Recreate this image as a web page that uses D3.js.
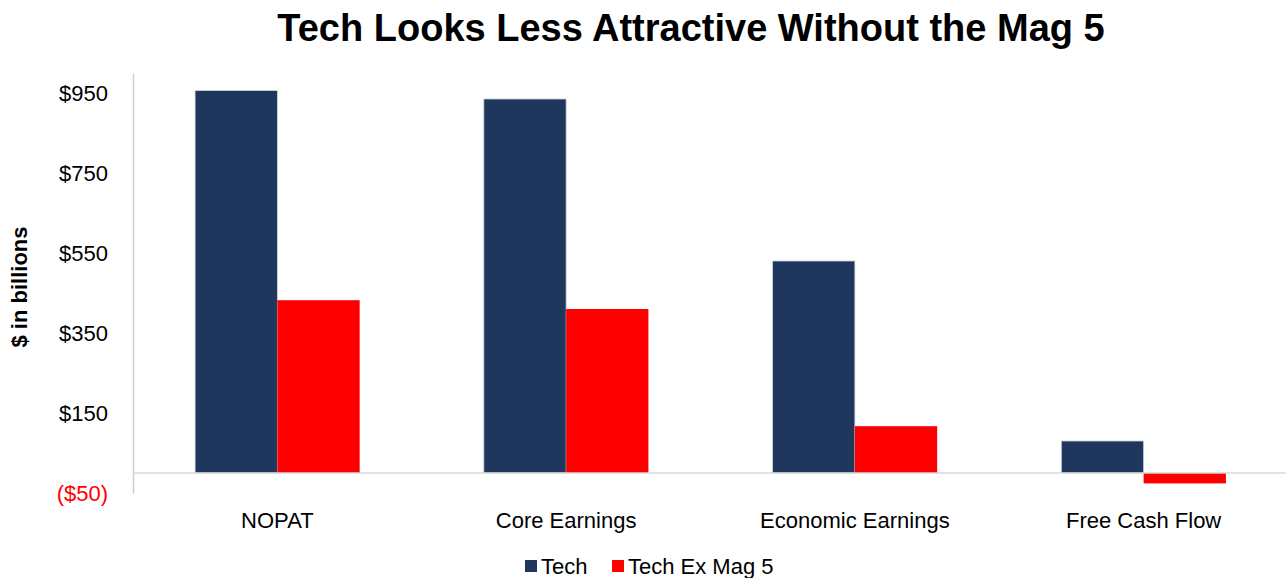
<!DOCTYPE html>
<html lang="en">
<head>
  <meta charset="UTF-8">
  <title>Tech Looks Less Attractive Without the Mag 5</title>
  <script src="https://cdn.jsdelivr.net/npm/d3@7"></script>
  <style>
    body { margin: 0; background: #fff; }
    svg { display: block; font-family: "Liberation Sans", Arial, sans-serif; }
  </style>
</head>
<body>
  <div id="chart"></div>
  <script>
    const categories = ['NOPAT', 'Core Earnings', 'Economic Earnings', 'Free Cash Flow']
    const seriesNames = ['Tech', 'Tech Ex Mag 5']
    const techValues = [956, 935, 530, 80]
    const exMagValues = [432, 410, 117, -26]
    const yTicks = [-50, 150, 350, 550, 750, 950]

    const width = 1286
    const height = 578
    const plotLeft = 133
    const plotRight = 1288
    const plotTop = 73
    const plotBottom = 493
    const colors = ['#1f375c', '#ff0000']

    const svg = d3.select('#chart')
      .append('svg')
      .attr('width', width)
      .attr('height', height)

    const x0 = d3.scaleBand()
      .domain(categories)
      .range([plotLeft, plotRight])
      .paddingInner(0.43)
      .paddingOuter(0.215)

    const x1 = d3.scaleBand()
      .domain(seriesNames)
      .range([0, x0.bandwidth()])

    const y = d3.scaleLinear()
      .domain([-50, 1000])
      .range([plotBottom, plotTop])

    const rows = categories.map((c, i) => ({ cat: c, values: [techValues[i], exMagValues[i]] }))

    // title
    svg.append('text')
      .attr('x', 691)
      .attr('y', 41)
      .attr('text-anchor', 'middle')
      .style('font-size', '38px')
      .style('font-weight', 'bold')
      .text('Tech Looks Less Attractive Without the Mag 5')

    // y axis
    const yAxis = d3.axisLeft(y)
      .tickValues(yTicks)
      .tickSize(0)
      .tickPadding(25)
      .tickFormat(d => d < 0 ? `($${-d})` : `$${d}`)

    const gy = svg.append('g')
      .attr('transform', `translate(${plotLeft}, 0)`)
      .call(yAxis)
    gy.select('.domain').attr('stroke', '#cfcfcf').attr('stroke-width', 1.5)
    gy.selectAll('.tick text')
      .style('font-size', '22px')
      .style('font-family', '"Liberation Sans", Arial, sans-serif')
      .attr('fill', d => d < 0 ? '#ff0000' : '#000')

    svg.append('text')
      .attr('transform', `translate(27, ${287}) rotate(-90)`)
      .attr('text-anchor', 'middle')
      .style('font-size', '22px')
      .style('font-weight', 'bold')
      .text('$ in billions')

    // bars
    const groups = svg.selectAll('.group')
      .data(rows)
      .enter()
      .append('g')
      .attr('class', 'group')
      .attr('transform', d => `translate(${x0(d.cat)}, 0)`)

    groups.selectAll('rect')
      .data(d => d.values.map((v, i) => ({ key: seriesNames[i], value: v, i })))
      .enter()
      .append('rect')
      .attr('x', d => x1(d.key))
      .attr('width', x1.bandwidth())
      .attr('y', d => y(Math.max(0, d.value)))
      .attr('height', d => Math.abs(y(d.value) - y(0)))
      .attr('fill', d => colors[d.i])
      .attr('stroke', d => d.i === 0 ? '#c9d2de' : 'none')
      .attr('stroke-width', 0.8)

    // zero line
    svg.append('line')
      .attr('x1', plotLeft)
      .attr('x2', width)
      .attr('y1', y(0))
      .attr('y2', y(0))
      .attr('stroke', '#d9d9d9')
      .attr('stroke-width', 1.5)

    // category labels
    svg.selectAll('.cat')
      .data(categories)
      .enter()
      .append('text')
      .attr('class', 'cat')
      .attr('x', d => x0(d) + x0.bandwidth() / 2)
      .attr('y', 528)
      .attr('text-anchor', 'middle')
      .style('font-size', '22px')
      .text(d => d)

    // legend
    const legendX = [525, 612]
    const legend = svg.selectAll('.legend')
      .data(seriesNames)
      .enter()
      .append('g')
      .attr('class', 'legend')
      .attr('transform', (d, i) => `translate(${legendX[i]}, 566)`)

    legend.append('rect')
      .attr('x', 0)
      .attr('y', -6)
      .attr('width', 12)
      .attr('height', 12)
      .attr('fill', (d, i) => colors[i])

    legend.append('text')
      .attr('x', 16)
      .attr('y', 8)
      .style('font-size', '22px')
      .text(d => d)
  </script>
</body>
</html>
